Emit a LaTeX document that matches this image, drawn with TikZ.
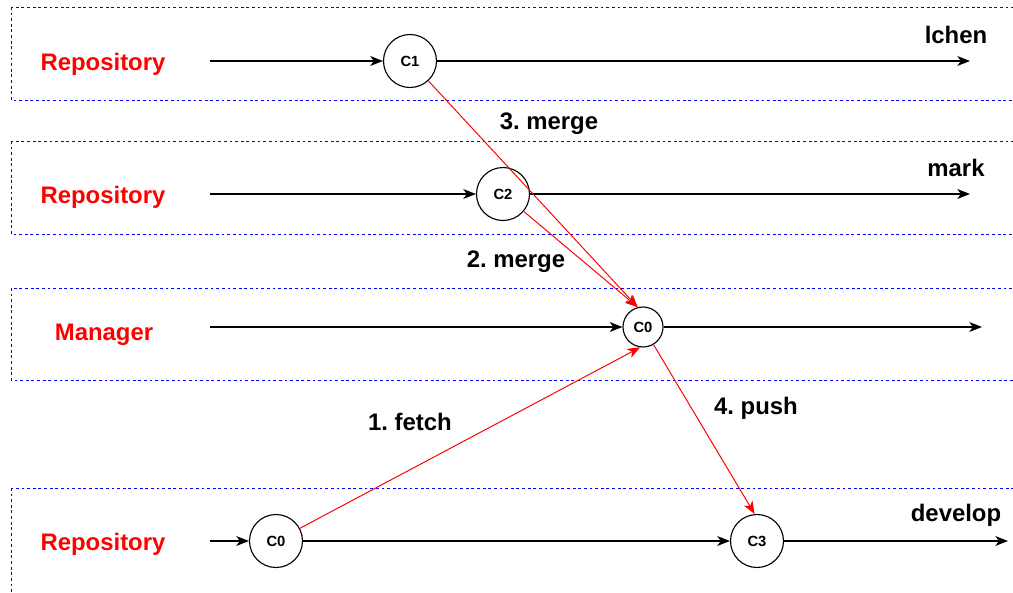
\documentclass[tikz,border=0pt]{standalone}
\usepackage{fontspec}
\setmainfont{Liberation Sans}
\usetikzlibrary{arrows.meta}
\definecolor{laneBlue}{RGB}{0, 0, 255}
\definecolor{mergeRed}{RGB}{255, 0, 0}
\frenchspacing

\begin{document}
\begin{tikzpicture}[scale=1.0,
    lane/.style={draw=laneBlue, line width=0.7pt, dash pattern=on 2pt off 2pt},
    commit/.style={draw, circle, line width=0.8pt, minimum size=1.325cm, inner sep=0pt, font=\fontsize{10.5}{12}\selectfont\bfseries},
    owner/.style={text=mergeRed, font=\fontsize{17}{20}\selectfont\bfseries},
    tag/.style={font=\fontsize{17}{20}\selectfont\bfseries},
    hist/.style={line width=1pt, -{Stealth[length=9pt, width=7pt, inset=2.5pt]}},
    sync/.style={mergeRed, line width=0.7pt, -{Stealth[length=9pt, width=7pt, inset=2.5pt]}}]
        \useasboundingbox (0,0) rectangle (25.325,14.8);
        % lanes
        \draw[lane] (0.275,14.625) rectangle (25.6,12.3);
        \draw[lane] (0.275,11.275) rectangle (25.6,8.95);
        \draw[lane] (0.275,7.6) rectangle (25.6,5.3);
        \draw[lane] (0.275,2.6) rectangle (25.6,-0.5);
        % lane owners
        \node[owner] (own1) at (2.575,13.2) {Repository};
        \node[owner] (own2) at (2.575,9.875) {Repository};
        \node[owner] (own3) at (2.6,6.425) {Manager};
        \node[owner] (own4) at (2.575,1.2) {Repository};
        % commits
        \node[commit] (c1) at (10.25,13.275) {C1};
        \node[commit] (c2) at (12.575,9.95) {C2};
        \node[commit, minimum size=1cm] (m0) at (16.075,6.625) {C0};
        \node[commit] (d0) at (6.9,1.275) {C0};
        \node[commit] (c3) at (18.925,1.275) {C3};
        % line ends
        \coordinate (s1) at (5.25,13.275);
        \coordinate (e1) at (24.25,13.275);
        \coordinate (s2) at (5.25,9.95);
        \coordinate (e2) at (24.25,9.95);
        \coordinate (s3) at (5.25,6.625);
        \coordinate (e3) at (24.55,6.625);
        \coordinate (s4) at (5.25,1.275);
        \coordinate (e4) at (25.2,1.275);
        % branch names
        \node[tag] (lchen) at (23.9,13.925) {lchen};
        \node[tag] (mark) at (23.9,10.6) {mark};
        \node[tag] (develop) at (23.9,1.925) {develop};
        % history lines
        \draw[hist] (s1) -- (c1);
        \draw[hist] (c1) -- (e1);
        \draw[hist] (s2) -- (c2);
        \draw[hist] (c2) -- (e2);
        \draw[hist] (s3) -- (m0);
        \draw[hist] (m0) -- (e3);
        \draw[hist] (s4) -- (d0);
        \draw[hist] (d0) -- (c3);
        \draw[hist] (c3) -- (e4);
        % merges, fetch, push
        \draw[sync] (c1) -- (m0.105);
        \draw[sync] (c2) -- (m0.105);
        \draw[sync] (d0) -- (m0.262);
        \draw[sync] (m0) -- (c3.95);
        \node[tag] (lbl3) at (13.725,11.7) {3. merge};
        \node[tag] (lbl2) at (12.9,8.25) {2. merge};
        \node[tag] (lbl1) at (10.25,4.25) {1. fetch};
        \node[tag] (lbl4) at (18.9,4.6) {4. push};
      \end{tikzpicture}
\end{document}
